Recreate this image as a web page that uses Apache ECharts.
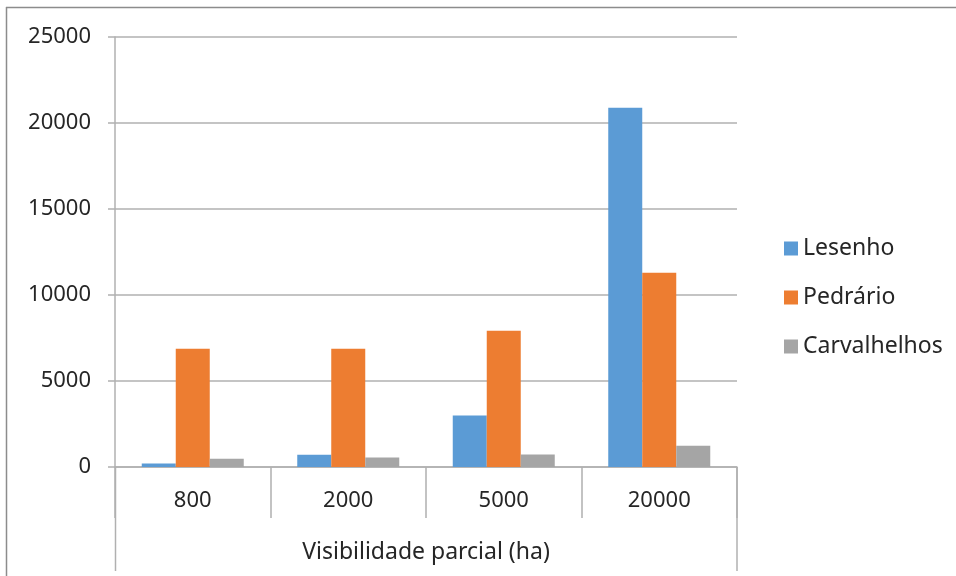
<!DOCTYPE html>
<html>
<head>
<meta charset="utf-8">
<script src="https://cdn.jsdelivr.net/npm/echarts@6/dist/echarts.min.js"></script>
<style>
  html, body { margin: 0; padding: 0; background: #fff; }
  #chart { width: 956px; height: 576px; }
</style>
</head>
<body>
<div id="chart"></div>
<script>
const categories = ["800", "2000", "5000", "20000"];
const lesenho = [200, 710, 3000, 20880];
const pedrario = [6870, 6870, 7920, 11290];
const carvalhelhos = [480, 550, 730, 1230];
const yTicks = [0, 5000, 10000, 15000, 20000, 25000];

const font = "Noto Sans";
const lineColor = "#b0b0b0";
const textColor = "#262626";

const chart = echarts.init(document.getElementById("chart"));

const seriesDefs = [
  { name: "Lesenho", data: lesenho, color: "#5b9bd5" },
  { name: "Pedrário", data: pedrario, color: "#ed7d31" },
  { name: "Carvalhelhos", data: carvalhelhos, color: "#a5a5a5" }
];

chart.setOption({
  animation: false,
  textStyle: { fontFamily: font },
  grid: { left: 115, right: 219, top: 37, bottom: 109 },
  legend: {
    orient: "vertical",
    left: 779,
    top: 232,
    itemWidth: 14,
    itemHeight: 14,
    itemGap: 26,
    icon: "rect",
    textStyle: { fontFamily: font, fontSize: 23, color: textColor },
    data: seriesDefs.map((s) => s.name)
  },
  xAxis: {
    type: "category",
    data: categories,
    axisLine: { lineStyle: { color: lineColor, width: 1.5 } },
    axisTick: { show: true, length: 51, alignWithLabel: false, lineStyle: { color: lineColor, width: 1.5 } },
    axisLabel: { fontSize: 22, color: textColor, margin: 23 },
    name: "Visibilidade parcial (ha)",
    nameLocation: "middle",
    nameGap: 74,
    nameTextStyle: { fontSize: 23, color: textColor }
  },
  yAxis: {
    type: "value",
    min: 0,
    max: yTicks[yTicks.length - 1],
    interval: 5000,
    axisLine: { show: true, lineStyle: { color: lineColor, width: 1.5 } },
    axisTick: { show: true, length: 7, lineStyle: { color: lineColor, width: 1.5 } },
    axisLabel: { fontSize: 22, color: textColor, margin: 24, formatter: (v) => String(v) },
    splitLine: { lineStyle: { color: lineColor, width: 1.5 } }
  },
  graphic: [
    // chart frame
    { type: "line", shape: { x1: 6, y1: 7.5, x2: 956, y2: 7.5 }, style: { stroke: "#8c8c8c", lineWidth: 1.5 } },
    { type: "line", shape: { x1: 6.5, y1: 7, x2: 6.5, y2: 576 }, style: { stroke: "#8c8c8c", lineWidth: 1.5 } },
    // outer category bracket lines
    { type: "line", shape: { x1: 115.5, y1: 467, x2: 115.5, y2: 571 }, style: { stroke: lineColor, lineWidth: 1.5 } },
    { type: "line", shape: { x1: 737, y1: 467, x2: 737, y2: 571 }, style: { stroke: lineColor, lineWidth: 1.5 } }
  ],
  series: seriesDefs.map((s) => ({
    name: s.name,
    type: "bar",
    data: s.data,
    barWidth: 34,
    barGap: "0%",
    itemStyle: { color: s.color }
  }))
});
</script>
</body>
</html>
